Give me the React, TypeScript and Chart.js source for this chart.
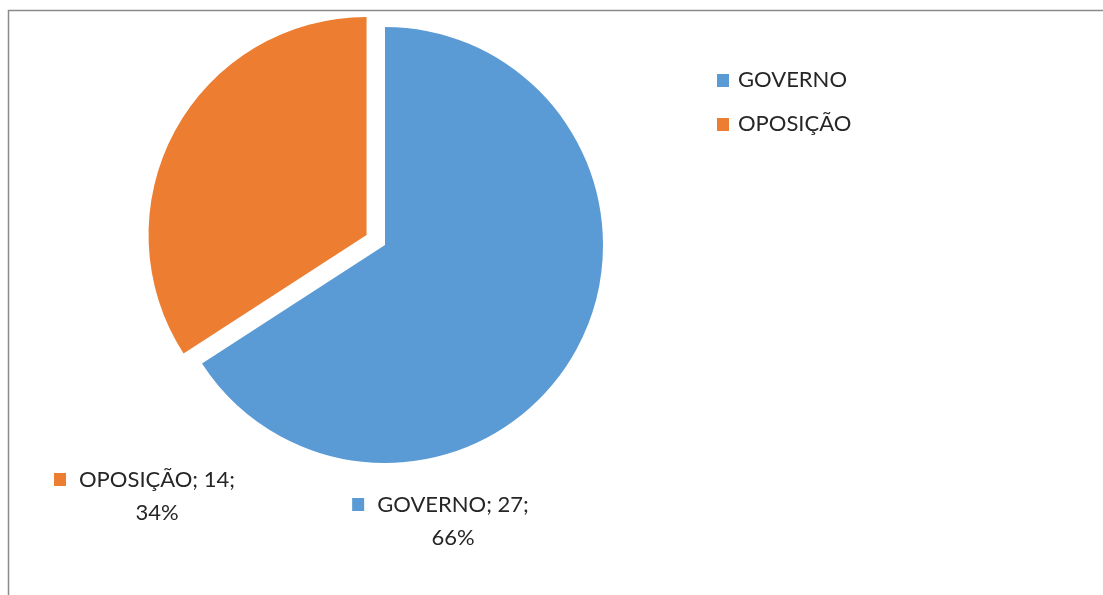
import { useEffect, useRef } from 'react';
import { Chart, registerables } from 'chart.js';

Chart.register(...registerables);

const categories = ['GOVERNO', 'OPOSIÇÃO'];
const values = [27, 14];
const colors = ['#5B9BD5', '#ED7D31'];
const explode = [0, 21];

const FONT_FAMILY = 'Lato, "Open Sans", sans-serif';
const FONT_SIZE = 22;
const TEXT_COLOR = '#262626';

export default function App() {
  const ref = useRef<HTMLCanvasElement | null>(null);

  useEffect(() => {
    const canvas = ref.current;
    if (!canvas) return;
    const total = values.reduce((a, b) => a + b, 0);

    const frame = {
      id: 'frame',
      beforeDraw(chart: any) {
        const ctx = chart.ctx;
        ctx.save();
        ctx.fillStyle = '#ffffff';
        ctx.fillRect(0, 0, chart.width, chart.height);
        ctx.strokeStyle = '#8a8a8a';
        ctx.lineWidth = 1.5;
        ctx.beginPath();
        ctx.moveTo(8.5, chart.height);
        ctx.lineTo(8.5, 10.5);
        ctx.lineTo(chart.width, 10.5);
        ctx.stroke();
        ctx.restore();
      },
    };

    const explodePlugin = {
      id: 'explode',
      afterDatasetsUpdate(chart: any) {
        const meta = chart.getDatasetMeta(0);
        meta.data.forEach((arc: any, i: number) => {
          const d = explode[i] || 0;
          if (!d) return;
          const mid = (arc.startAngle + arc.endAngle) / 2;
          arc.x += Math.cos(mid) * d;
          arc.y += Math.sin(mid) * d;
        });
      },
    };

    // label anchors relative to pie centre (text-block centre x, first line y)
    const labelOffsets = [
      { dx: 68, dy: 260 },
      { dx: -228, dy: 235 },
    ];

    const overlay = {
      id: 'overlay',
      afterDraw(chart: any) {
        const ctx = chart.ctx;
        const meta = chart.getDatasetMeta(0);
        const base = meta.data[0];
        const cx = base.x;
        const cy = base.y;
        ctx.save();
        ctx.font = `${FONT_SIZE}px ${FONT_FAMILY}`;
        ctx.textBaseline = 'middle';
        // data labels
        categories.forEach((label, i) => {
          const pct = Math.round((values[i] / total) * 100);
          const line1 = `${label}; ${values[i]};`;
          const line2 = `${pct}%`;
          const tx = cx + labelOffsets[i].dx;
          const ty = cy + labelOffsets[i].dy;
          const w = ctx.measureText(line1).width;
          const left = tx - w / 2;
          ctx.fillStyle = colors[i];
          ctx.fillRect(left - 25, ty - 7, 12, 13);
          ctx.fillStyle = TEXT_COLOR;
          ctx.textAlign = 'left';
          ctx.fillText(line1, left, ty);
          ctx.textAlign = 'center';
          ctx.fillText(line2, tx, ty + 33);
        });
        // legend
        categories.forEach((label, i) => {
          const y = 80 + i * 44;
          ctx.fillStyle = colors[i];
          ctx.fillRect(717, y - 6, 12, 13);
          ctx.fillStyle = TEXT_COLOR;
          ctx.textAlign = 'left';
          ctx.fillText(label, 738, y);
        });
        ctx.restore();
      },
    };

    const chart = new Chart(canvas, {
      type: 'pie',
      data: {
        labels: categories,
        datasets: [
          {
            data: values,
            backgroundColor: colors,
            borderWidth: 0,
          },
        ],
      },
      options: {
        responsive: false,
        animation: false,
        radius: 218,
        layout: { padding: { left: 0, top: 0, right: 333, bottom: 105 } },
        plugins: {
          legend: { display: false },
          tooltip: { enabled: false },
        },
      } as any,
      plugins: [frame, explodePlugin, overlay],
    });

    return () => chart.destroy();
  }, []);

  return (
    <div style={{ position: 'fixed', left: 0, top: 0, width: 1103, height: 595, background: '#fff' }}>
      <canvas ref={ref} width={1103} height={595} style={{ display: 'block' }} />
    </div>
  );
}
